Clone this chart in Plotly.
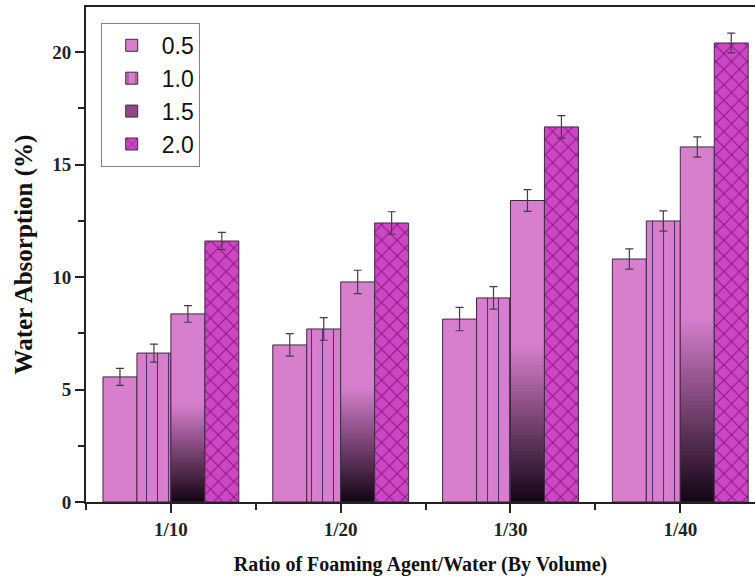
import numpy as np
import plotly.graph_objects as go

# ---- data ----
categories = ["1/10", "1/20", "1/30", "1/40"]
series_names = ["0.5", "1.0", "1.5", "2.0"]
wa_05 = [5.56, 6.98, 8.13, 10.8]
wa_10 = [6.62, 7.69, 9.07, 12.49]
wa_15 = [8.36, 9.78, 13.4, 15.78]
wa_20 = [11.6, 12.4, 16.67, 20.4]
err_05 = [0.38, 0.5, 0.52, 0.45]
err_10 = [0.4, 0.5, 0.5, 0.45]
err_15 = [0.37, 0.52, 0.48, 0.45]
err_20 = [0.38, 0.5, 0.5, 0.44]

xpos = np.arange(len(categories))

PINK = "rgb(215,127,205)"
MAG = "rgb(196,52,186)"
OUT = "rgb(60,45,60)"
ERR = dict(type="data", thickness=1.2, width=4, color="rgb(70,60,70)")
BW = 0.2
SERIF = "Liberation Serif, Times New Roman, serif"

fig = go.Figure()

# 0.5 plain
fig.add_trace(go.Bar(
    x=xpos, y=wa_05, name=series_names[0], width=BW, offset=-0.4,
    marker=dict(color=PINK, line=dict(color=OUT, width=1)),
    error_y=dict(array=err_05, **ERR)))

# 1.0 vertical lines
fig.add_trace(go.Bar(
    x=xpos, y=wa_10, name=series_names[1], width=BW, offset=-0.2,
    marker=dict(color=PINK, line=dict(color=OUT, width=1),
                pattern=dict(shape="|", fgcolor="rgb(95,45,115)", bgcolor=PINK,
                             size=11, solidity=0.1, fillmode="replace")),
    error_y=dict(array=err_10, **ERR)))

# 1.5 gradient (pink top half, fading to black in the lower half)
v15 = np.array(wa_15)
N = 40
c_top = np.array([215, 127, 205])
c_bot = np.array([20, 5, 20])
half = v15 * 0.52
for k in range(N):
    f = (k + 0.5) / N  # 0 bottom -> 1 top of gradient zone
    c = c_bot + (c_top - c_bot) * f
    fig.add_trace(go.Bar(
        x=xpos, y=half * 2.5 / N, base=half * k / N, width=BW, offset=0.0,
        marker=dict(color="rgb(%d,%d,%d)" % tuple(c.astype(int)), line=dict(width=0)),
        showlegend=False, hoverinfo="skip"))
fig.add_trace(go.Bar(
    x=xpos, y=v15 - half, base=half, width=BW, offset=0.0,
    marker=dict(color=PINK, line=dict(width=0)), showlegend=False, hoverinfo="skip"))
# outline + error bars for 1.5
fig.add_trace(go.Bar(
    x=xpos, y=wa_15, width=BW, offset=0.0, showlegend=False,
    marker=dict(color="rgba(0,0,0,0)", line=dict(color=OUT, width=1)),
    error_y=dict(array=err_15, **ERR)))
# legend entry for 1.5
fig.add_trace(go.Bar(
    x=xpos, y=[None] * len(categories), name=series_names[2], width=BW, offset=0.0,
    marker=dict(color="rgb(150,70,140)", line=dict(color=OUT, width=1))))

# 2.0 crosshatch
fig.add_trace(go.Bar(
    x=xpos, y=wa_20, name=series_names[3], width=BW, offset=0.2,
    marker=dict(color=MAG, line=dict(color=OUT, width=1),
                pattern=dict(shape="x", fgcolor="rgb(140,25,135)", bgcolor="rgb(205,70,195)",
                             size=11, solidity=0.18, fillmode="replace")),
    error_y=dict(array=err_20, **ERR)))

fig.update_layout(
    barmode="overlay",
    width=755, height=582,
    margin=dict(l=86, r=0, t=7, b=80),
    plot_bgcolor="white", paper_bgcolor="white",
    showlegend=True,
    legend=dict(x=0.022, y=0.968, xanchor="left", yanchor="top",
                bgcolor="white", bordercolor="rgb(130,130,130)", borderwidth=1,
                font=dict(family="Liberation Sans, Arial", size=23, color="#111"),
                itemwidth=50, tracegroupgap=0),
    xaxis=dict(range=[-0.5, 3.44], tickmode="array", tickvals=xpos, ticktext=categories,
               showline=True, linecolor="#222", linewidth=2, mirror=True,
               ticks="outside", ticklen=9, tickwidth=2, tickcolor="#222",
               minor=dict(tickmode="array", tickvals=list(xpos - 0.5) + [xpos[-1] + 0.5],
                          ticks="outside", ticklen=6, tickwidth=2, tickcolor="#222"),
               showgrid=False, zeroline=False,
               tickfont=dict(family=SERIF, size=19, color="#222", weight="bold"),
               title=dict(text="Ratio of Foaming Agent/Water (By Volume)",
                          font=dict(family=SERIF, size=20, color="#111", weight="bold"),
                          standoff=18)),
    yaxis=dict(range=[0, 22.0], tickvals=[0, 5, 10, 15, 20],
               showline=True, linecolor="#222", linewidth=2, mirror=False,
               ticks="outside", ticklen=9, tickwidth=2, tickcolor="#222",
               minor=dict(dtick=2.5, tick0=0, ticks="outside", ticklen=6, tickwidth=2, tickcolor="#222"),
               showgrid=False, zeroline=False,
               tickfont=dict(family=SERIF, size=19, color="#222", weight="bold"),
               title=dict(text="Water Absorption (%)",
                          font=dict(family=SERIF, size=25, color="#111", weight="bold"),
                          standoff=12)),
)

fig.write_html("out.html")
